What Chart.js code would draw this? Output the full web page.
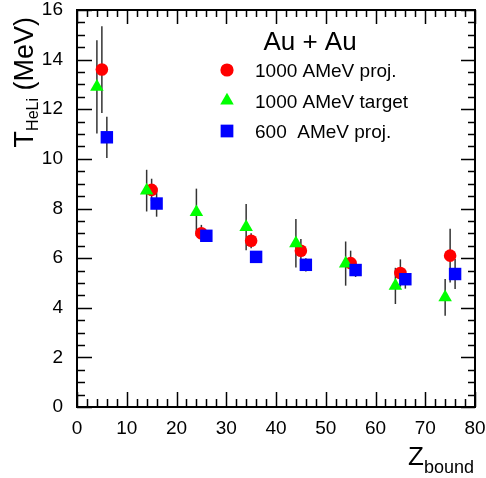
<!DOCTYPE html>
<html>
<head>
<meta charset="utf-8">
<title>T HeLi vs Z bound</title>
<script src="https://cdn.jsdelivr.net/npm/chart.js@4.4.1/dist/chart.umd.min.js"></script>
<style>
  html, body { margin: 0; padding: 0; background: #fff; }
  #wrap { width: 486px; height: 478px; }
</style>
</head>
<body>
<div id="wrap"><canvas id="tempChart" width="486" height="478"></canvas></div>
<script>
// Au + Au, temperatura isotopica He-Li in funzione di Z_bound
var zProj1000 = [5, 15, 25, 35, 45, 55, 65, 75];
var tProj1000 = [13.6, 8.75, 7.0, 6.7, 6.3, 5.8, 5.4, 6.1];
var eProj1000 = [1.75, 0.45, 0.34, 0.3, 0.47, 0.5, 0.55, 1.08];

var zTarg1000 = [4, 14, 24, 34, 44, 54, 64, 74];
var tTarg1000 = [12.9, 8.72, 7.85, 7.25, 6.6, 5.78, 4.88, 4.42];
var eTarg1000 = [1.88, 0.84, 0.95, 0.93, 0.98, 0.89, 0.73, 0.74];

var zProj600 = [6, 16, 26, 36, 46, 56, 66, 76];
var tProj600 = [10.87, 8.2, 6.9, 6.05, 5.73, 5.52, 5.15, 5.36];
var eProj600 = [0.83, 0.53, 0.23, 0.2, 0.27, 0.28, 0.38, 0.6];

var xTicks = [0, 10, 20, 30, 40, 50, 60, 70, 80];
var yTicks = [0, 2, 4, 6, 8, 10, 12, 14, 16];

var legendTitle = 'Au + Au';
var labels = ['1000 AMeV proj.', '1000 AMeV target', '600  AMeV proj.'];

var FONT = '"Liberation Sans", Arial, Helvetica, sans-serif';

function punti(xs, ys, es) {
    return xs.map(function (x, i) { return { x: x, y: ys[i], err: es[i] }; });
}

// disegna un marker come quelli del grafico (usato anche nella legenda)
function marker(ctx, style, x, y, r, color) {
    ctx.save();
    ctx.fillStyle = color;
    ctx.beginPath();
    if (style === 'circle') {
        ctx.arc(x, y, r, 0, Math.PI * 2);
    } else if (style === 'triangle') {
        ctx.moveTo(x, y - r);
        ctx.lineTo(x + r * 0.866, y + r * 0.5);
        ctx.lineTo(x - r * 0.866, y + r * 0.5);
        ctx.closePath();
    } else {
        var s = r * Math.SQRT1_2;
        ctx.rect(x - s, y - s, 2 * s, 2 * s);
    }
    ctx.fill();
    ctx.restore();
}

// barre d'errore verticali, sotto i marker
var erroriPlugin = {
    id: 'errori',
    beforeDatasetsDraw: function (chart) {
        var ctx = chart.ctx;
        var xs = chart.scales.x, ys = chart.scales.y;
        ctx.save();
        ctx.strokeStyle = '#333';
        ctx.lineWidth = 1.5;
        chart.data.datasets.forEach(function (ds) {
            ds.data.forEach(function (p) {
                var px = xs.getPixelForValue(p.x);
                ctx.beginPath();
                ctx.moveTo(px, ys.getPixelForValue(p.y - p.err));
                ctx.lineTo(px, ys.getPixelForValue(p.y + p.err));
                ctx.stroke();
            });
        });
        ctx.restore();
    }
};

// cornice con tacche interne, titoli degli assi e legenda
var cornicePlugin = {
    id: 'cornice',
    afterDraw: function (chart) {
        var ctx = chart.ctx;
        var a = chart.chartArea;
        var xs = chart.scales.x, ys = chart.scales.y;
        var v, p, len;

        ctx.save();
        ctx.strokeStyle = '#000';
        ctx.lineWidth = 1.5;
        ctx.beginPath();
        for (v = 0; v <= 80; v += 2) {
            p = Math.round(xs.getPixelForValue(v)) + 0.5;
            len = (v % 10 === 0) ? 15 : 8;
            ctx.moveTo(p, a.bottom); ctx.lineTo(p, a.bottom - len);
            ctx.moveTo(p, a.top); ctx.lineTo(p, a.top + len - 1);
        }
        for (v = 0; v <= 16; v += 0.5) {
            p = Math.round(ys.getPixelForValue(v)) + 0.5;
            len = (v % 2 === 0) ? 15 : 8;
            ctx.moveTo(a.left, p); ctx.lineTo(a.left + len, p);
            ctx.moveTo(a.right, p); ctx.lineTo(a.right - len + 1, p);
        }
        ctx.stroke();

        ctx.lineWidth = 2;
        ctx.strokeRect(a.left, a.top, a.right - a.left, a.bottom - a.top);

        ctx.fillStyle = '#000';
        ctx.textBaseline = 'alphabetic';

        // titolo asse y, ruotato e allineato in alto
        ctx.save();
        ctx.translate(33, 17);
        ctx.rotate(-Math.PI / 2);
        ctx.font = '27px ' + FONT;
        var wT = ctx.measureText('T').width;
        var wU = ctx.measureText(' (MeV)').width;
        ctx.font = '16px ' + FONT;
        var wS = ctx.measureText('HeLi').width;
        var x0 = -(wT + wS + wU);
        ctx.font = '27px ' + FONT;
        ctx.fillText('T', x0, 0);
        ctx.font = '16px ' + FONT;
        ctx.fillText('HeLi', x0 + wT, 5);
        ctx.font = '27px ' + FONT;
        ctx.fillText(' (MeV)', x0 + wT + wS, 0);
        ctx.restore();

        // titolo asse x, allineato a destra
        ctx.font = '18px ' + FONT;
        var wb = ctx.measureText('bound').width;
        ctx.font = '26px ' + FONT;
        var wz = ctx.measureText('Z').width;
        var xe = a.right - 1;
        ctx.fillText('Z', xe - wb - wz, 465);
        ctx.font = '18px ' + FONT;
        ctx.fillText('bound', xe - wb, 473);

        // legenda
        ctx.font = '26px ' + FONT;
        ctx.textAlign = 'center';
        ctx.fillText(legendTitle, 310, 50);
        ctx.textAlign = 'left';
        ctx.font = '19px ' + FONT;
        chart.data.datasets.forEach(function (ds, i) {
            var cy = 70 + i * 30.5;
            marker(ctx, ds.pointStyle, 227, cy, ds.legendRadius, ds.backgroundColor);
            ctx.fillText(labels[i], 255, cy + 7);
        });
        ctx.restore();
    }
};

var ctx = document.getElementById('tempChart').getContext('2d');
var tempChart = new Chart(ctx, {
    type: 'scatter',
    data: {
        datasets: [{
            label: labels[0],
            data: punti(zProj1000, tProj1000, eProj1000),
            pointStyle: 'circle',
            pointRadius: 6.3,
            legendRadius: 6.6,
            backgroundColor: '#ff0000',
            borderWidth: 0,
            order: 3
        }, {
            label: labels[1],
            data: punti(zTarg1000, tTarg1000, eTarg1000),
            pointStyle: 'triangle',
            pointRadius: 7.8,
            legendRadius: 7.8,
            backgroundColor: '#00ff00',
            borderWidth: 0,
            order: 2
        }, {
            label: labels[2],
            data: punti(zProj600, tProj600, eProj600),
            pointStyle: 'rect',
            pointRadius: 8.8,
            legendRadius: 9,
            backgroundColor: '#0000ff',
            borderWidth: 0,
            order: 1
        }]
    },
    options: {
        responsive: false,
        animation: false,
        events: [],
        layout: { padding: { left: 0, right: 11, top: 10, bottom: 0 } },
        plugins: {
            legend: { display: false },
            tooltip: { enabled: false }
        },
        elements: { point: { hoverRadius: 0 } },
        scales: {
            x: {
                type: 'linear',
                min: 0,
                max: 80,
                grid: { display: false },
                border: { display: false },
                afterBuildTicks: function (s) {
                    s.ticks = xTicks.map(function (v) { return { value: v }; });
                },
                ticks: { color: '#000', padding: 2, maxRotation: 0, font: { family: FONT, size: 19 } },
                afterFit: function (s) {
                    s.height = 71;
                    s.paddingLeft = 0;
                    s.paddingRight = 0;
                }
            },
            y: {
                type: 'linear',
                min: 0,
                max: 16,
                grid: { display: false },
                border: { display: false },
                afterBuildTicks: function (s) {
                    s.ticks = yTicks.map(function (v) { return { value: v }; });
                },
                ticks: { color: '#000', padding: 6, font: { family: FONT, size: 19 } },
                afterFit: function (s) {
                    s.width = 77;
                    s.paddingTop = 0;
                    s.paddingBottom = 0;
                }
            }
        }
    },
    plugins: [erroriPlugin, cornicePlugin]
});
</script>
</body>
</html>
